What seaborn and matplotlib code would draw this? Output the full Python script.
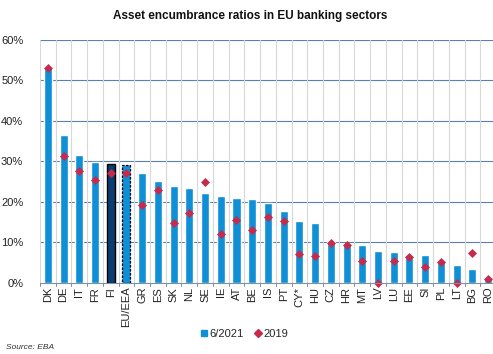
import matplotlib
matplotlib.use("Agg")
import matplotlib.pyplot as plt
from matplotlib.lines import Line2D
import seaborn as sns
import pandas as pd
import numpy as np

countries = ["DK", "DE", "IT", "FR", "FI", "EU/EEA", "GR", "ES", "SK", "NL", "SE", "IE",
             "AT", "BE", "IS", "PT", "CY*", "HU", "CZ", "HR", "MT", "LV", "LU", "EE",
             "SI", "PL", "LT", "BG", "RO"]
ratio_2021 = [53.0, 36.4, 31.6, 29.8, 29.4, 29.1, 27.0, 25.2, 23.8, 23.5, 22.1, 21.4,
              20.9, 20.8, 19.8, 17.8, 15.2, 14.8, 10.1, 9.6, 9.3, 7.9, 7.6, 6.9,
              6.8, 5.4, 4.4, 3.3, 1.1]
ratio_2019 = [53.2, 31.2, 27.6, 25.5, 27.2, 27.2, 19.1, 22.8, 14.7, 17.2, 24.9, 12.0,
              15.6, 13.0, 16.2, 15.2, 7.2, 6.5, 9.9, 9.3, 5.4, 0.0, 5.4, 6.3,
              3.8, 5.0, 0.0, 7.4, 0.8]
yticks = [0, 10, 20, 30, 40, 50, 60]

BLUE = "#0f8fd5"
NAVY = "#0b3d72"
RED = "#c62a4c"

df = pd.DataFrame({"country": countries, "r2021": ratio_2021, "r2019": ratio_2019})
palette = {c: (NAVY if c == "FI" else BLUE) for c in countries}

sns.set_style("white")
plt.rcParams["font.family"] = ["Liberation Sans", "DejaVu Sans"]

fig = plt.figure(figsize=(4.93, 3.54), dpi=100)
ax = fig.add_axes([0.081, 0.2014, 0.925, 0.6856])

sns.barplot(data=df, x="country", y="r2021", hue="country", palette=palette,
            order=countries, width=0.51, legend=False, ax=ax, zorder=3,
            saturation=1)

for patch, c in zip(ax.patches, countries):
    if c == "FI":
        patch.set_edgecolor("black")
        patch.set_linewidth(1.0)
    elif c == "EU/EEA":
        patch.set_edgecolor("black")
        patch.set_linewidth(0.9)
        patch.set_linestyle((0, (2, 1.2)))

sns.stripplot(data=df, x="country", y="r2019", order=countries, jitter=False,
              marker="D", color=RED, size=4.6, linewidth=0, ax=ax, zorder=4,
              clip_on=False)

ax.set_ylim(0, 60)
ax.set_xlim(-0.5, len(countries) - 0.5)
ax.set_yticks(yticks)
ax.set_yticklabels([f"{v}%" for v in yticks], fontsize=8, color="#222222")
ax.tick_params(axis="y", length=0, pad=12)
ax.set_xticks(range(len(countries)))
ax.set_xticklabels(countries, rotation=90, fontsize=8, color="#222222")
ax.tick_params(axis="x", length=0, pad=3)
ax.set_xlabel("")
ax.set_ylabel("")

# horizontal value gridlines and vertical category separators
for v in yticks[1:]:
    ax.axhline(v, color="#5a7fb4", linewidth=0.8, zorder=1)
for i in range(len(countries) + 1):
    ax.axvline(i - 0.5, color="#d8d8d8", linewidth=0.8, zorder=1)
    ax.plot([i - 0.5, i - 0.5], [0, -0.9], color="#7f8fa6", linewidth=0.7,
            clip_on=False, zorder=2)

for s in ["top", "right", "left"]:
    ax.spines[s].set_visible(False)
ax.spines["bottom"].set_color("#7f8fa6")
ax.spines["bottom"].set_linewidth(0.8)
ax.spines["bottom"].set_zorder(5)

fig.text(0.508, 0.955, "Asset encumbrance ratios in EU banking sectors",
         ha="center", va="center", fontsize=8.5, fontweight="bold", color="#111111")

handles = [Line2D([], [], marker="s", linestyle="", color=BLUE, markersize=5),
           Line2D([], [], marker="D", linestyle="", color=RED, markersize=4.5)]
fig.legend(handles, ["6/2021", "2019"], loc="center", bbox_to_anchor=(0.495, 0.056),
           ncol=2, frameon=False, fontsize=8, handletextpad=0.1, columnspacing=0.9,
           handlelength=0.8)

fig.text(0.012, 0.008, "Source: EBA", ha="left", va="bottom", fontsize=6,
         style="italic", color="#333333")

fig.savefig("out.png", dpi=100)
